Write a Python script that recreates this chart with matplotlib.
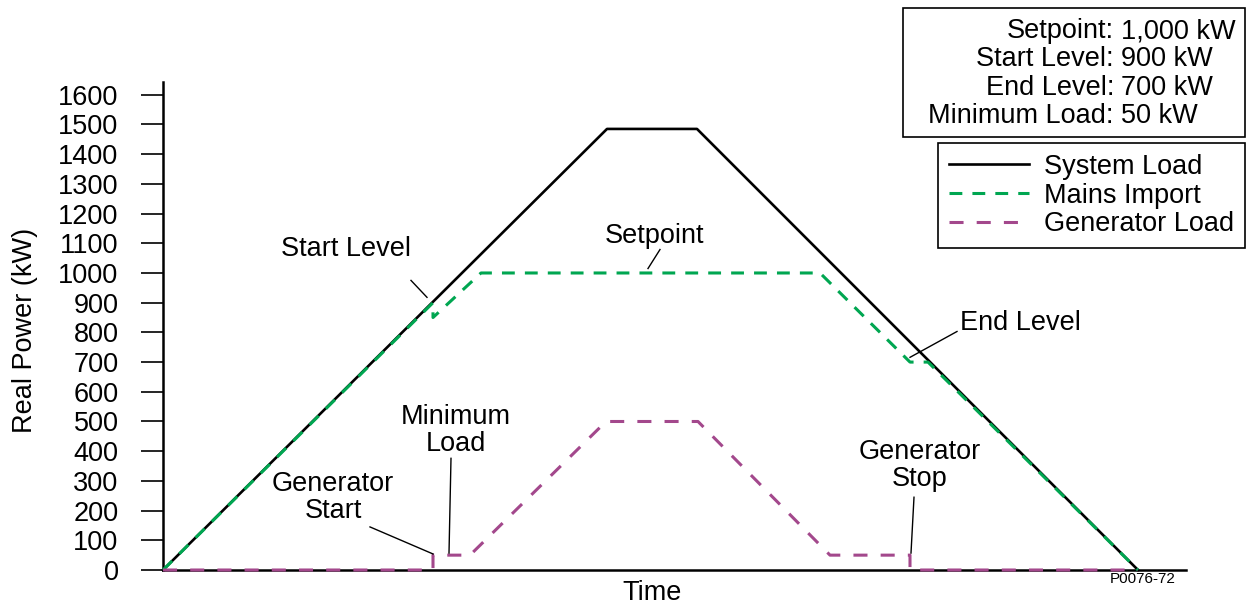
import matplotlib
matplotlib.use('Agg')
import matplotlib.pyplot as plt
from matplotlib.patches import Rectangle

plt.rcParams['font.family'] = ['Liberation Sans', 'DejaVu Sans']

# data (time in arbitrary units, power in kW)
sys_t = [0, 444, 534, 975]
sys_kw = [0, 1485, 1485, 0]

mains_t = [0, 270, 270, 318, 657, 747, 765, 975]
mains_kw = [0, 900, 850, 1000, 1000, 700, 700, 0]

gen_t = [0, 270, 270, 307, 443, 535, 667, 747, 747, 975]
gen_kw = [0, 0, 50, 50, 500, 500, 50, 50, 0, 0]

yticks = list(range(0, 1700, 100))

settings = [('Setpoint:', '1,000 kW'), ('Start Level:', '900 kW'),
            ('End Level:', '700 kW'), ('Minimum Load:', '50 kW')]

# (text, text position, leader start, leader end)
notes = [
    ('Start Level', (183, 1082), (248, 975), (264, 918)),
    ('Setpoint', (491, 1123), (497, 1079), (485, 1015)),
    ('End Level', (857, 830), (794, 803), (747, 716)),
    ('Minimum\nLoad', (293, 470), (288, 376), (286, 57)),
    ('Generator\nStart', (170, 245), (207, 145), (270, 54)),
    ('Generator\nStop', (757, 353), (751, 245), (748, 57)),
]

green = '#00A651'
magenta = '#A3488C'
fs = 19.5

W, H = 1252, 606
fig = plt.figure(figsize=(W / 100, H / 100), dpi=100)
ax = fig.add_axes([163 / W, 1 - 570 / H, (1186 - 163) / W, (570 - 82) / H])

l1, = ax.plot(sys_t, sys_kw, color='black', lw=1.9, clip_on=False, zorder=3, label='System Load')
l2, = ax.plot(mains_t, mains_kw, color=green, lw=2.2, dashes=(4.2, 3.3), clip_on=False, zorder=4, label='Mains Import')
l3, = ax.plot(gen_t, gen_kw, color=magenta, lw=2.2, dashes=(4.6, 4.3), clip_on=False, zorder=5, label='Generator Load')

ax.set_xlim(0, 1023)
ax.set_ylim(0, 1643)
ax.set_yticks(yticks)
ax.set_xticks([])
for s in ['top', 'right']:
    ax.spines[s].set_visible(False)
ax.spines['left'].set_linewidth(1.8)
ax.spines['bottom'].set_linewidth(1.8)
ax.tick_params(axis='y', direction='out', length=16, width=1.2, pad=16, labelsize=fs)

for txt, tp, p0, p1 in notes:
    ax.text(tp[0], tp[1], txt, fontsize=fs, ha='center', va='center', linespacing=1.05)
    ax.plot([p0[0], p1[0]], [p0[1], p1[1]], color='black', lw=1.0, zorder=6)

fig.text(25 / W, 1 - 330 / H, 'Real Power (kW)', rotation=90, fontsize=fs, ha='center', va='center')
fig.text(652 / W, 1 - 593 / H, 'Time', fontsize=fs, ha='center', va='center')
fig.text(1143 / W, 1 - 579 / H, 'P0076-72', fontsize=11, ha='center', va='center')

# settings box
fig.patches.append(Rectangle((903 / W, 1 - 137 / H), (1245 - 903) / W, (137 - 8) / H,
                             transform=fig.transFigure, fill=False, edgecolor='black', lw=1.2))
for i, (lab, val) in enumerate(settings):
    y = 1 - (31 + i * 28.3) / H
    fig.text(1114 / W, y, lab, fontsize=fs, ha='right', va='center')
    fig.text(1121 / W, y, val, fontsize=fs, ha='left', va='center')

leg = ax.legend(handles=[l1, l2, l3], loc='upper right', bbox_to_anchor=(1245 / W, 1 - 143 / H),
                bbox_transform=fig.transFigure, fontsize=fs, frameon=True, fancybox=False,
                framealpha=1, edgecolor='black', borderaxespad=0, borderpad=0.4,
                handlelength=2.95, handletextpad=0.55, labelspacing=0.1)
leg.get_frame().set_linewidth(1.2)

fig.savefig('out.png', dpi=100)
